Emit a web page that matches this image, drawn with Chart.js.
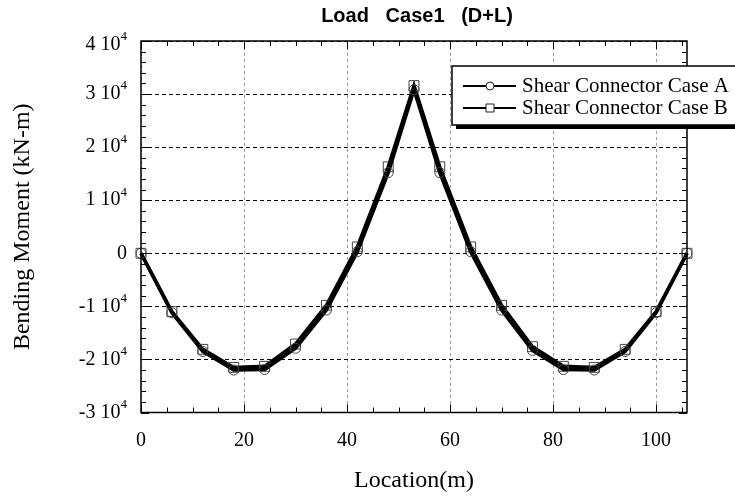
<!DOCTYPE html>
<html>
<head>
<meta charset="utf-8">
<script src="https://cdn.jsdelivr.net/npm/chart.js@4.4.1/dist/chart.umd.min.js"></script>
<style>
html, body { margin: 0; padding: 0; background: #fff; }
#wrap { width: 735px; height: 497px; }
</style>
</head>
<body>
<div id="wrap"><canvas id="chartMomento"></canvas></div>
<script>
// Location (m)
const locations = [0, 6, 12, 18, 24, 30, 36, 42, 48, 53, 58, 64, 70, 76, 82, 88, 94, 100, 106];
// Bending moment (kN-m)
const caseA = [0, -11200, -18500, -22000, -21900, -17900, -10700, 300, 15200, 30800, 15200, 300, -10700, -18300, -21900, -22000, -18500, -11200, 0];
const caseB = [0, -11000, -18100, -21500, -21300, -17100, -9800, 1200, 16300, 31600, 16300, 1200, -9800, -17600, -21300, -21500, -18100, -11000, 0];
const xTicks = [0, 20, 40, 60, 80, 100];
const yTicks = [-30000, -20000, -10000, 0, 10000, 20000, 30000, 40000];

const serif = 'Liberation Serif';

const pontos = (ys) => locations.map((x, i) => ({ x: x, y: ys[i] }));

const molduraPlugin = {
    id: 'moldura',
    afterDraw(chart) {
        const { ctx, chartArea: a, scales: { x, y } } = chart;
        ctx.save();

        // ticks pra dentro nos 4 lados
        ctx.strokeStyle = '#000';
        ctx.lineWidth = 1;
        ctx.beginPath();
        for (let v = 0; v <= 106; v += 5) {
            const px = Math.round(x.getPixelForValue(v)) + 0.5;
            const len = v % 20 === 0 ? 8 : 5;
            ctx.moveTo(px, a.bottom); ctx.lineTo(px, a.bottom - len);
            ctx.moveTo(px, a.top); ctx.lineTo(px, a.top + len);
        }
        for (let v = -30000; v <= 40000; v += 2000) {
            const py = Math.round(y.getPixelForValue(v)) + 0.5;
            const len = v % 10000 === 0 ? 8 : 5;
            ctx.moveTo(a.left, py); ctx.lineTo(a.left + len, py);
            ctx.moveTo(a.right, py); ctx.lineTo(a.right - len, py);
        }
        ctx.stroke();

        ctx.lineWidth = 1.5;
        ctx.strokeRect(a.left, a.top, a.right - a.left, a.bottom - a.top);

        // rotulos do eixo y com expoente
        ctx.fillStyle = '#000';
        ctx.textBaseline = 'middle';
        ctx.textAlign = 'right';
        const xr = a.left - 14;
        yTicks.forEach(v => {
            let py = y.getPixelForValue(v);
            if (v === yTicks[yTicks.length - 1]) py += 4;
            if (v === 0) {
                ctx.font = '20px ' + serif;
                ctx.fillText('0', xr, py);
                return;
            }
            ctx.font = '13px ' + serif;
            const supW = ctx.measureText('4').width;
            ctx.fillText('4', xr, py - 8);
            ctx.font = '20px ' + serif;
            ctx.fillText((v / 10000) + ' 10', xr - supW, py);
        });

        // titulo
        ctx.font = 'bold 20px Liberation Sans';
        ctx.textAlign = 'center';
        ctx.fillText('Load   Case1   (D+L)', (a.left + a.right) / 2 + 3, 16);

        // legenda
        const lx = 452, ly = 66, lw = 290, lh = 59;
        ctx.fillStyle = '#000';
        ctx.fillRect(lx + 4, ly + 4, lw, lh);
        ctx.fillStyle = '#fff';
        ctx.fillRect(lx, ly, lw, lh);
        ctx.lineWidth = 1.5;
        ctx.strokeStyle = '#000';
        ctx.strokeRect(lx, ly, lw, lh);

        chart.data.datasets.forEach((ds, i) => {
            const yy = 86 + i * 22;
            ctx.strokeStyle = '#000';
            ctx.lineWidth = 2;
            ctx.beginPath();
            ctx.moveTo(463, yy); ctx.lineTo(516, yy);
            ctx.stroke();
            ctx.lineWidth = 1;
            ctx.strokeStyle = '#222';
            ctx.fillStyle = '#fff';
            ctx.beginPath();
            if (ds.pointStyle === 'circle') {
                ctx.arc(490, yy, 4, 0, Math.PI * 2);
            } else {
                ctx.rect(486, yy - 4, 8, 8);
            }
            ctx.fill();
            ctx.stroke();
            ctx.fillStyle = '#000';
            ctx.font = '21px ' + serif;
            ctx.textAlign = 'left';
            ctx.fillText(ds.label, 522, yy);
        });

        ctx.restore();
    }
};

document.addEventListener('DOMContentLoaded', () => {

    new Chart(document.getElementById('chartMomento'), {

        type: 'line',

        data: {
            datasets: [{
                label: 'Shear Connector Case A',
                data: pontos(caseA),
                borderColor: '#000',
                borderWidth: 3.5,
                pointStyle: 'circle',
                pointRadius: 5,
                pointBorderColor: '#444',
                pointBorderWidth: 1,
                pointBackgroundColor: 'rgba(0,0,0,0)',
                tension: 0,
                clip: false
            }, {
                label: 'Shear Connector Case B',
                data: pontos(caseB),
                borderColor: '#000',
                borderWidth: 3.5,
                pointStyle: 'rect',
                pointRadius: 7,
                pointBorderColor: '#444',
                pointBorderWidth: 1,
                pointBackgroundColor: 'rgba(0,0,0,0)',
                tension: 0,
                clip: false
            }]
        },

        options: {
            responsive: true,
            maintainAspectRatio: false,
            animation: false,
            devicePixelRatio: 1,
            layout: { padding: { top: 41, right: 48, left: 0, bottom: 0 } },
            plugins: {
                legend: { display: false },
                title: { display: false },
                tooltip: { enabled: false }
            },
            scales: {
                x: {
                    type: 'linear',
                    min: 0,
                    max: 106,
                    afterBuildTicks: s => { s.ticks = xTicks.map(v => ({ value: v })); },
                    afterFit: s => { s.height = 84.5; },
                    grid: { color: '#9a9a9a', lineWidth: 1, drawTicks: false },
                    border: { display: false, dash: [3, 3] },
                    ticks: { color: '#000', padding: 16, font: { family: serif, size: 20 } },
                    title: {
                        display: true,
                        text: 'Location(m)',
                        color: '#000',
                        font: { family: serif, size: 24 },
                        padding: { top: 0, bottom: 2 }
                    }
                },
                y: {
                    type: 'linear',
                    min: -30000,
                    max: 40000,
                    afterBuildTicks: s => { s.ticks = yTicks.map(v => ({ value: v })); },
                    afterFit: s => { s.width = 141; },
                    grid: { color: '#000', lineWidth: 1, drawTicks: false },
                    border: { display: false, dash: [4, 3] },
                    ticks: { display: false },
                    title: {
                        display: true,
                        text: 'Bending Moment (kN-m)',
                        color: '#000',
                        font: { family: serif, size: 24 },
                        padding: { top: 8, bottom: 0 }
                    }
                }
            }
        },

        plugins: [molduraPlugin]

    });

});
</script>
</body>
</html>
